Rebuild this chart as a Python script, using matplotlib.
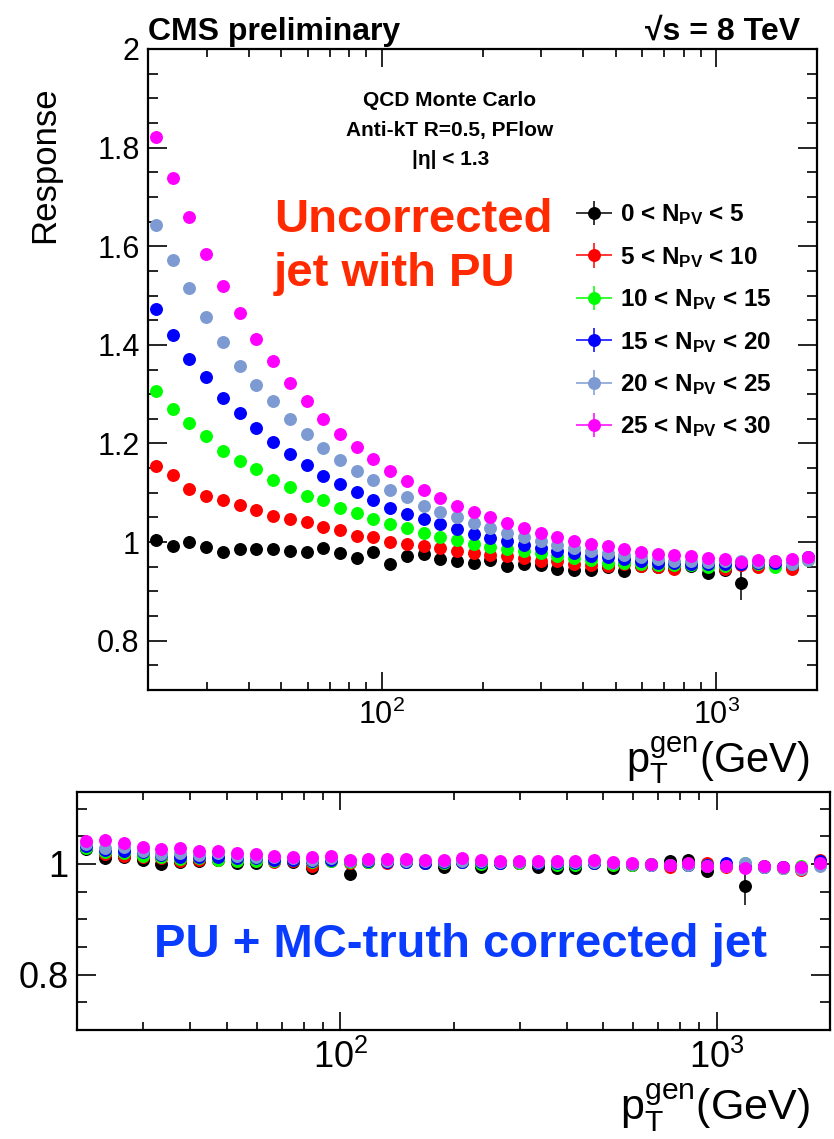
import math
import matplotlib
matplotlib.use("Agg")
import matplotlib.pyplot as plt
from matplotlib.ticker import MultipleLocator, LogLocator, FuncFormatter, NullFormatter
from matplotlib.legend_handler import HandlerErrorbar
from matplotlib.container import ErrorbarContainer

plt.rcParams['font.family'] = ['Liberation Sans', 'DejaVu Sans']
plt.rcParams['mathtext.fontset'] = 'custom'
plt.rcParams['mathtext.rm'] = 'Liberation Sans'
plt.rcParams['mathtext.it'] = 'Liberation Sans:italic'
plt.rcParams['mathtext.bf'] = 'Liberation Sans:bold'

# centros de los bins en pT gen (GeV)
ptGen = [21.1, 23.7, 26.6, 29.9, 33.5, 37.6, 42.2, 47.3, 53.1, 59.6,
         66.8, 75.0, 84.1, 94.4, 105.9, 118.9, 133.4, 149.6, 167.9, 188.4,
         211.3, 237.1, 266.1, 298.5, 335.0, 375.8, 421.7, 473.2, 530.9, 595.7,
         668.3, 749.9, 841.4, 944.1, 1059.3, 1188.5, 1333.5, 1496.2, 1678.8, 1883.6]

etiquetas = ["0 < N$_{\\mathbf{PV}}$ < 5", "5 < N$_{\\mathbf{PV}}$ < 10",
             "10 < N$_{\\mathbf{PV}}$ < 15", "15 < N$_{\\mathbf{PV}}$ < 20",
             "20 < N$_{\\mathbf{PV}}$ < 25", "25 < N$_{\\mathbf{PV}}$ < 30"]
colores = ["black", "#ff0000", "#00ff00", "#0000ff", "#7d9bd2", "#ff00ff"]

# respuesta sin corregir (panel de arriba)
resp_0_5 = [1.004, 0.993, 1.000, 0.990, 0.980, 0.986, 0.986, 0.986, 0.982, 0.980,
            0.987, 0.978, 0.968, 0.980, 0.955, 0.972, 0.975, 0.966, 0.961, 0.957,
            0.963, 0.951, 0.955, 0.953, 0.945, 0.944, 0.943, 0.949, 0.942, 0.951,
            0.950, 0.947, 0.952, 0.938, 0.943, 0.916, 0.953, 0.953, 0.950, 0.967]
resp_5_10 = [1.154, 1.137, 1.108, 1.094, 1.085, 1.076, 1.066, 1.053, 1.046, 1.041,
             1.031, 1.024, 1.013, 1.010, 1.001, 0.996, 0.992, 0.987, 0.982, 0.977,
             0.974, 0.972, 0.968, 0.962, 0.962, 0.956, 0.953, 0.951, 0.955, 0.951,
             0.950, 0.945, 0.955, 0.951, 0.946, 0.953, 0.950, 0.951, 0.945, 0.967]
resp_10_15 = [1.306, 1.270, 1.241, 1.215, 1.185, 1.164, 1.148, 1.126, 1.111, 1.094,
              1.085, 1.070, 1.059, 1.047, 1.037, 1.028, 1.018, 1.010, 1.004, 0.997,
              0.991, 0.986, 0.982, 0.977, 0.972, 0.967, 0.963, 0.958, 0.958, 0.955,
              0.953, 0.953, 0.953, 0.950, 0.951, 0.957, 0.955, 0.949, 0.955, 0.963]
resp_15_20 = [1.472, 1.420, 1.371, 1.334, 1.293, 1.261, 1.231, 1.202, 1.178, 1.157,
              1.135, 1.118, 1.101, 1.085, 1.070, 1.057, 1.047, 1.036, 1.026, 1.017,
              1.009, 1.003, 0.995, 0.989, 0.982, 0.978, 0.972, 0.969, 0.965, 0.962,
              0.958, 0.957, 0.955, 0.955, 0.955, 0.955, 0.958, 0.958, 0.956, 0.969]
resp_20_25 = [1.644, 1.572, 1.515, 1.456, 1.405, 1.358, 1.318, 1.287, 1.250, 1.220,
              1.191, 1.167, 1.145, 1.126, 1.106, 1.091, 1.074, 1.060, 1.050, 1.038,
              1.028, 1.019, 1.011, 1.002, 0.995, 0.989, 0.982, 0.977, 0.974, 0.969,
              0.965, 0.962, 0.962, 0.960, 0.962, 0.962, 0.960, 0.961, 0.955, 0.963]
resp_25_30 = [1.821, 1.738, 1.659, 1.584, 1.519, 1.464, 1.411, 1.367, 1.322, 1.286,
              1.250, 1.220, 1.192, 1.169, 1.145, 1.124, 1.106, 1.090, 1.073, 1.061,
              1.050, 1.038, 1.028, 1.018, 1.010, 1.002, 0.996, 0.993, 0.986, 0.980,
              0.976, 0.974, 0.972, 0.968, 0.965, 0.960, 0.963, 0.961, 0.965, 0.970]
err_0_5 = [0.012, 0.010, 0.012, 0.008, 0.010, 0.007, 0.006, 0.006, 0.006, 0.005,
           0.005, 0.005, 0.005, 0.005, 0.005, 0.004, 0.004, 0.004, 0.004, 0.004,
           0.004, 0.004, 0.004, 0.004, 0.004, 0.004, 0.004, 0.004, 0.004, 0.004,
           0.005, 0.005, 0.006, 0.006, 0.008, 0.034, 0.010, 0.010, 0.010, 0.010]

# respuesta corregida PU + MC-truth (panel de abajo)
corr_0_5 = [1.027, 1.011, 1.012, 1.008, 1.000, 1.003, 1.006, 1.007, 1.002, 1.002,
            1.006, 1.004, 0.993, 1.008, 0.981, 1.004, 1.005, 1.005, 1.002, 0.995,
            1.003, 0.994, 1.002, 1.001, 0.994, 0.993, 0.993, 1.001, 0.993, 0.999,
            1.000, 1.006, 1.008, 0.987, 0.997, 0.961, 0.996, 0.994, 0.993, 1.001]
corr_5_10 = [1.030, 1.018, 1.015, 1.013, 1.011, 1.006, 1.008, 1.008, 1.005, 1.005,
             1.004, 1.005, 0.997, 1.005, 1.002, 1.004, 1.002, 1.004, 1.001, 1.001,
             1.004, 1.002, 1.002, 1.001, 1.002, 1.001, 1.000, 1.002, 0.999, 0.999,
             0.999, 0.995, 0.999, 1.001, 0.995, 0.995, 0.995, 0.993, 0.989, 1.008]
corr_10_15 = [1.029, 1.022, 1.020, 1.015, 1.012, 1.009, 1.010, 1.008, 1.006, 1.006,
              1.006, 1.007, 1.004, 1.005, 1.003, 1.004, 1.005, 1.003, 1.002, 1.002,
              1.003, 1.000, 1.001, 1.002, 1.001, 0.999, 0.998, 1.001, 0.999, 0.999,
              1.000, 0.998, 0.999, 0.998, 0.997, 1.002, 0.995, 0.993, 0.997, 0.999]
corr_15_20 = [1.032, 1.026, 1.024, 1.022, 1.017, 1.013, 1.013, 1.012, 1.011, 1.010,
              1.008, 1.008, 1.006, 1.008, 1.005, 1.005, 1.004, 1.004, 1.002, 1.003,
              1.004, 1.003, 1.002, 1.003, 1.002, 1.002, 1.001, 1.002, 1.001, 1.000,
              0.999, 0.999, 0.998, 0.998, 1.002, 0.999, 0.995, 0.995, 0.993, 1.005]
corr_20_25 = [1.036, 1.029, 1.030, 1.024, 1.018, 1.020, 1.017, 1.020, 1.014, 1.013,
              1.012, 1.010, 1.008, 1.010, 1.006, 1.007, 1.005, 1.006, 1.005, 1.005,
              1.006, 1.005, 1.004, 1.004, 1.003, 1.003, 1.003, 1.003, 1.002, 1.000,
              0.999, 0.998, 0.998, 0.997, 0.997, 1.002, 0.994, 0.992, 0.990, 0.997]
corr_25_30 = [1.041, 1.043, 1.038, 1.031, 1.027, 1.029, 1.024, 1.024, 1.019, 1.018,
              1.014, 1.013, 1.012, 1.014, 1.008, 1.009, 1.009, 1.009, 1.007, 1.008,
              1.010, 1.008, 1.006, 1.006, 1.006, 1.005, 1.005, 1.007, 1.004, 1.001,
              1.000, 0.999, 1.001, 0.997, 0.996, 0.993, 0.996, 0.994, 0.995, 1.002]
errc_0_5 = [0.012, 0.010, 0.008, 0.006, 0.010, 0.006, 0.005, 0.005, 0.005, 0.005,
            0.005, 0.005, 0.005, 0.005, 0.005, 0.004, 0.004, 0.004, 0.004, 0.004,
            0.004, 0.004, 0.004, 0.004, 0.004, 0.004, 0.004, 0.004, 0.004, 0.004,
            0.005, 0.005, 0.006, 0.006, 0.008, 0.035, 0.010, 0.010, 0.010, 0.010]

respuestas = [resp_0_5, resp_5_10, resp_10_15, resp_15_20, resp_20_25, resp_25_30]
corregidas = [corr_0_5, corr_5_10, corr_10_15, corr_15_20, corr_20_25, corr_25_30]

W, H = 834, 1139


def fx(x):
    return x / W


def fy(y):
    return 1 - y / H


fig = plt.figure(figsize=(W / 100, H / 100), dpi=100)
ax1 = fig.add_axes([fx(148), fy(690), fx(817 - 148), (690 - 49) / H])
ax2 = fig.add_axes([fx(77), fy(1030), fx(830 - 77), (1030 - 792) / H])


def f_formato_ejes(ax, tamLetra, ymin, ymax, largoY):
    ax.set_xscale("log")
    ax.set_xlim(20, 2000)
    ax.set_ylim(ymin, ymax)
    ax.yaxis.set_major_locator(MultipleLocator(0.2))
    ax.yaxis.set_minor_locator(MultipleLocator(0.05))
    ax.yaxis.set_major_formatter(FuncFormatter(lambda v, p: f"{round(v, 2):g}"))
    ax.xaxis.set_major_locator(LogLocator(base=10))
    ax.xaxis.set_minor_locator(LogLocator(base=10, subs=range(2, 10)))
    ax.xaxis.set_major_formatter(FuncFormatter(lambda v, p: r"$10^{%d}$" % round(math.log10(v))))
    ax.xaxis.set_minor_formatter(NullFormatter())
    ax.tick_params(which="both", direction="in", top=True, right=True,
                   labelsize=tamLetra, width=1.2)
    ax.tick_params(axis="y", which="major", length=largoY, pad=6)
    ax.tick_params(axis="y", which="minor", length=largoY / 2)
    ax.tick_params(axis="x", which="major", length=13, pad=7)
    ax.tick_params(axis="x", which="minor", length=6)
    for s in ax.spines.values():
        s.set_linewidth(1.6)


f_formato_ejes(ax1, 22, 0.7, 2.0, 14)
f_formato_ejes(ax2, 26, 0.7, 1.13, 14)

# Graficar los puntos
contenedores = []
for i in range(6):
    if i == 0:
        e1, e2 = err_0_5, errc_0_5
    else:
        e1, e2 = 0.003, 0.003
    c = ax1.errorbar(ptGen, respuestas[i], yerr=e1, xerr=0, fmt="o", color=colores[i],
                     markersize=8.3, elinewidth=1.1, capsize=0, zorder=3 + i)
    contenedores.append(c)
    ax2.errorbar(ptGen, corregidas[i], yerr=e2, xerr=0, fmt="o", color=colores[i],
                 markersize=8.3, elinewidth=1.1, capsize=0, zorder=3 + i)

ax1.legend(contenedores, etiquetas, loc="center left",
           bbox_to_anchor=(fx(576), fy(321)), bbox_transform=fig.transFigure,
           frameon=False, prop={"size": 17.5, "weight": "bold"},
           handlelength=1.5, handletextpad=0.3, labelspacing=0.72, borderpad=0,
           borderaxespad=0,
           handler_map={ErrorbarContainer: HandlerErrorbar(xerr_size=0.75, yerr_size=0.5)})

# Textos
fig.text(fx(148), fy(40), "CMS preliminary", fontsize=23, fontweight="bold",
         ha="left", va="baseline")
fig.text(fx(800), fy(40), "√s = 8 TeV", fontsize=23, fontweight="bold",
         ha="right", va="baseline")
fig.text(fx(450), fy(100), "QCD Monte Carlo", fontsize=15, fontweight="bold",
         ha="center", va="center")
fig.text(fx(450), fy(130), "Anti-kT R=0.5, PFlow", fontsize=15, fontweight="bold",
         ha="center", va="center")
fig.text(fx(451), fy(160), "|η| < 1.3", fontsize=15, fontweight="bold",
         ha="center", va="center")
fig.text(fx(274), fy(232), "Uncorrected", fontsize=34, fontweight="bold",
         color="#ff2a00", ha="left", va="baseline")
fig.text(fx(274), fy(286), "jet with PU", fontsize=34, fontweight="bold",
         color="#ff2a00", ha="left", va="baseline")
fig.text(fx(461), fy(945), "PU + MC-truth corrected jet", fontsize=34,
         fontweight="bold", color="#0a3cff", ha="center", va="center")
fig.text(fx(45), fy(165), "Response", fontsize=25, rotation=90,
         ha="center", va="center")
fig.text(fx(810), fy(772), r"p$_\mathrm{T}^\mathrm{gen}$(GeV)", fontsize=30,
         ha="right", va="baseline")
fig.text(fx(810), fy(1121), r"p$_\mathrm{T}^\mathrm{gen}$(GeV)", fontsize=31,
         ha="right", va="baseline")

plt.savefig("out.png", dpi=100)
